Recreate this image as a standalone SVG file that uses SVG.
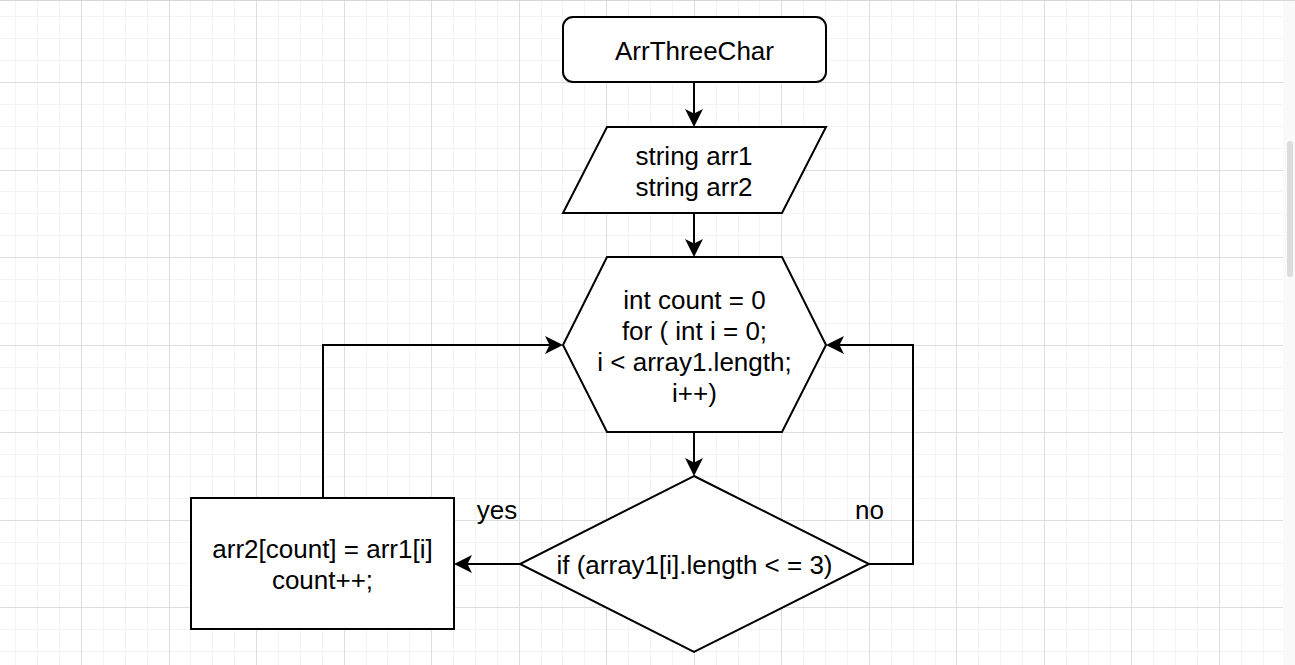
<svg xmlns="http://www.w3.org/2000/svg" width="1295" height="665" viewBox="0 0 1295 665">
  <style>
    .minor { stroke: #f3f3f3; stroke-width: 1; fill: none; }
    .major { stroke: #dddddd; stroke-width: 1; fill: none; }
    .shape { fill: #ffffff; stroke: #000000; stroke-width: 2; }
    .edge { fill: none; stroke: #000000; stroke-width: 2; }
    text { font-family: "Liberation Sans", Arial, sans-serif; font-size: 26px; fill: #000000; text-anchor: middle; }
  </style>
  <defs>
    <marker id="arrow" markerUnits="userSpaceOnUse" markerWidth="20" markerHeight="20" refX="10" refY="9" orient="auto">
      <path d="M0 0 L18 9 L0 18 L4.5 9 Z" fill="#000000"/>
    </marker>
  </defs>
  <rect x="0" y="0" width="1295" height="665" fill="#ffffff"/>
  <g id="grid">
    <path class="minor" d="M15.5 0V665M37.5 0V665M59.5 0V665M103.5 0V665M125.5 0V665M147.5 0V665M190.5 0V665M212.5 0V665M234.5 0V665M278.5 0V665M300.5 0V665M322.5 0V665M366.5 0V665M387.5 0V665M409.5 0V665M453.5 0V665M475.5 0V665M497.5 0V665M541.5 0V665M562.5 0V665M584.5 0V665M628.5 0V665M650.5 0V665M672.5 0V665M716.5 0V665M738.5 0V665M759.5 0V665M803.5 0V665M825.5 0V665M847.5 0V665M891.5 0V665M913.5 0V665M935.5 0V665M978.5 0V665M1000.5 0V665M1022.5 0V665M1066.5 0V665M1088.5 0V665M1110.5 0V665M1153.5 0V665M1175.5 0V665M1197.5 0V665M1241.5 0V665M1263.5 0V665M0 16.5H1295M0 38.5H1295M0 60.5H1295M0 104.5H1295M0 126.5H1295M0 148.5H1295M0 191.5H1295M0 213.5H1295M0 235.5H1295M0 279.5H1295M0 301.5H1295M0 323.5H1295M0 367.5H1295M0 388.5H1295M0 410.5H1295M0 454.5H1295M0 476.5H1295M0 498.5H1295M0 542.5H1295M0 563.5H1295M0 585.5H1295M0 629.5H1295M0 651.5H1295"/>
    <path class="major" d="M81.5 0V665M169.5 0V665M256.5 0V665M344.5 0V665M431.5 0V665M519.5 0V665M606.5 0V665M694.5 0V665M781.5 0V665M869.5 0V665M956.5 0V665M1044.5 0V665M1131.5 0V665M1219.5 0V665M0 82.5H1295M0 170.5H1295M0 257.5H1295M0 345.5H1295M0 432.5H1295M0 520.5H1295M0 607.5H1295"/>
    <rect x="1283" y="0" width="12" height="665" fill="#f9f9f9"/>
    <rect x="1287" y="141" width="6" height="136" rx="3" fill="#dcdcdc"/>
    <path d="M0 0.5H1295" stroke="#d6d6d6" stroke-width="1"/>
  </g>
  <g id="connectors">
    <path class="edge" d="M694 82V119" marker-end="url(#arrow)"/>
    <path class="edge" d="M694 213V249" marker-end="url(#arrow)"/>
    <path class="edge" d="M694 432V468" marker-end="url(#arrow)"/>
    <path class="edge" d="M520 564H462" marker-end="url(#arrow)"/>
    <path class="edge" d="M869 564H913V345H834" marker-end="url(#arrow)"/>
    <path class="edge" d="M323 498V345H555" marker-end="url(#arrow)"/>
    <text id="label-yes" x="497" y="519">yes</text>
    <text id="label-no" x="869.5" y="519">no</text>
  </g>
  <g id="node-start">
    <rect class="shape" x="563" y="17" width="263" height="65" rx="10" ry="10"/>
    <text x="694.5" y="60">ArrThreeChar</text>
  </g>
  <g id="node-input">
    <polygon class="shape" points="607,127 826,127 782,213 563,213"/>
    <text x="694" y="165">string arr1</text>
    <text x="694" y="196">string arr2</text>
  </g>
  <g id="node-loop">
    <polygon class="shape" points="607,257 782,257 826,345 782,432 607,432 563,345"/>
    <text x="694.5" y="308.5">int count = 0</text>
    <text x="694.5" y="339.5">for ( int i = 0;</text>
    <text x="694.5" y="370.5">i &lt; array1.length;</text>
    <text x="694.5" y="401.5">i++)</text>
  </g>
  <g id="node-decision">
    <polygon class="shape" points="694,476 869,564 694,652 520,564"/>
    <text x="694.5" y="574">if (array1[i].length &lt; = 3)</text>
  </g>
  <g id="node-assign">
    <rect class="shape" x="191" y="498" width="263" height="131"/>
    <text x="322.5" y="558">arr2[count] = arr1[i]</text>
    <text x="322.5" y="589">count++;</text>
  </g>
</svg>
